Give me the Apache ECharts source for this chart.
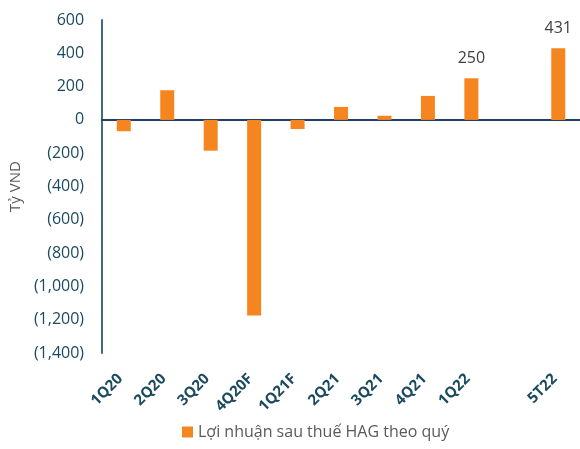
<!DOCTYPE html>
<html>
<head>
<meta charset="utf-8">
<script src="https://cdn.jsdelivr.net/npm/echarts@6/dist/echarts.min.js"></script>
<style>
  html, body { margin: 0; padding: 0; background: #fff; }
  #chart { width: 580px; height: 449px; }
</style>
</head>
<body>
<div id="chart"></div>
<script>
// quý
const quarters = ['1Q20', '2Q20', '3Q20', '4Q20F', '1Q21F', '2Q21', '3Q21', '4Q21', '1Q22', '', '5T22']
// lợi nhuận sau thuế, tỷ VND
const profit = [-68, 178, -185, -1175, -55, 78, 25, 144, 250, null, 431]
const labelled = ['1Q22', '5T22']

const chart = echarts.init(document.getElementById('chart'))

const teal = '#1b4a5e'
const font = 'Open Sans'

function fmt(v) {
  const s = Math.abs(v).toLocaleString('en-US')
  return v < 0 ? '(' + s + ')' : s
}

const option = {
  animation: false,
  grid: {
    left: 97,
    right: 0,
    top: 20,
    bottom: 96
  },
  legend: {
    bottom: 4,
    left: 177,
    icon: 'rect',
    itemWidth: 11,
    itemHeight: 11,
    itemGap: 6,
    textStyle: {
      fontFamily: font,
      fontSize: 16,
      color: '#595959'
    },
    data: ['Lợi nhuận sau thuế HAG theo quý']
  },
  xAxis: [{
    type: 'category',
    data: quarters,
    axisLine: {
      onZero: true,
      lineStyle: { color: '#1f3f6a', width: 2 }
    },
    axisTick: { show: false },
    axisLabel: { show: false }
  }, {
    type: 'category',
    data: quarters,
    position: 'bottom',
    axisLine: { show: false, onZero: false },
    axisTick: { show: false },
    axisLabel: {
      rotate: 45,
      margin: 20,
      interval: 0,
      fontFamily: font,
      fontWeight: 'bold',
      fontSize: 15,
      color: teal,
      padding: [0, 5, 0, 0]
    }
  }],
  yAxis: {
    type: 'value',
    min: -1400,
    max: 600,
    interval: 200,
    name: 'Tỷ VND',
    nameLocation: 'middle',
    nameGap: 78,
    nameTextStyle: {
      fontFamily: font,
      fontSize: 15,
      color: '#595959'
    },
    axisLine: {
      show: true,
      lineStyle: { color: '#3e6a7a', width: 2 }
    },
    axisTick: { show: false },
    splitLine: { show: false },
    axisLabel: {
      margin: 18,
      fontFamily: font,
      fontSize: 16,
      color: teal,
      formatter: fmt
    }
  },
  series: [{
    name: 'Lợi nhuận sau thuế HAG theo quý',
    type: 'bar',
    xAxisIndex: 0,
    barWidth: 14,
    itemStyle: { color: '#F5861F' },
    data: profit.map((v, i) => ({
      value: v,
      label: {
        show: labelled.includes(quarters[i]),
        position: 'top',
        distance: 12,
        fontFamily: font,
        fontSize: 16,
        color: '#404040'
      }
    }))
  }]
}

chart.setOption(option)
</script>
</body>
</html>
